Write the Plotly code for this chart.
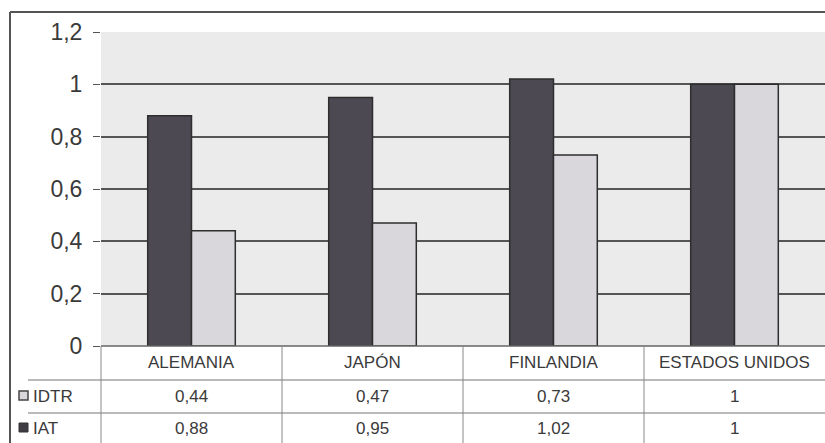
import plotly.graph_objects as go

categories = ["ALEMANIA", "JAPÓN", "FINLANDIA", "ESTADOS UNIDOS"]
iat = [0.88, 0.95, 1.02, 1]
idtr = [0.44, 0.47, 0.73, 1]
iat_labels = ["0.88", "0,95", "1.02", "1"]
idtr_labels = ["0.44", "0.47", "0,73", "1"]
yticks = [0, 0.2, 0.4, 0.6, 0.8, 1, 1.2]

W, H = 825, 443
L, T, B = 101, 32, 97
PH = H - T - B  # 314
PW = W - L

def py(p):  # pixel y -> paper y
    return (H - B - p) / PH

def px(p):  # pixel x -> paper x
    return (p - L) / PW

DARK = "#4d4953"
LIGHT = "#d9d7dc"
EDGE = "#2e2e2e"
TXT = "#3a3a3a"
FONT = "Liberation Sans, Arial, sans-serif"

fig = go.Figure()
fig.add_trace(go.Bar(x=categories, y=iat, name="IAT", marker=dict(color=DARK, line=dict(color=EDGE, width=1.5))))
fig.add_trace(go.Bar(x=categories, y=idtr, name="IDTR", marker=dict(color=LIGHT, line=dict(color=EDGE, width=1.5))))

shapes = []
# outer frame
shapes.append(dict(type="line", xref="paper", yref="paper", x0=px(10), x1=px(825), y0=py(12), y1=py(12), line=dict(color="#555", width=2)))
shapes.append(dict(type="line", xref="paper", yref="paper", x0=px(10), x1=px(10), y0=py(12), y1=py(443), line=dict(color="#555", width=2)))
# table horizontal lines
shapes.append(dict(type="line", xref="paper", yref="paper", x0=0, x1=1, y0=0, y1=0, line=dict(color="#666", width=1.5)))
for yy in [380, 413]:
    shapes.append(dict(type="line", xref="paper", yref="paper", x0=px(28), x1=1, y0=py(yy), y1=py(yy), line=dict(color="#777", width=1.2)))
# table vertical lines
for xx in [0, 0.25, 0.5, 0.75]:
    shapes.append(dict(type="line", xref="paper", yref="paper", x0=xx, x1=xx, y0=0, y1=py(443), line=dict(color="#888", width=1)))
# legend keys
shapes.append(dict(type="rect", xref="paper", yref="paper", x0=px(19), x1=px(28), y0=py(400), y1=py(391), fillcolor=LIGHT, line=dict(color="#444", width=1.5)))
shapes.append(dict(type="rect", xref="paper", yref="paper", x0=px(19), x1=px(28), y0=py(432), y1=py(423), fillcolor="#3f3c44", line=dict(color="#333", width=1)))

ann = []
common = dict(showarrow=False, yanchor="middle", yref="paper", font=dict(size=17, color=TXT))
for i, c in enumerate(categories):
    ann.append(dict(x=c, y=py(362), xref="x", text=c, **common))
    ann.append(dict(x=c, y=py(396), xref="x", text=idtr_labels[i].replace(".", ","), **common))
    ann.append(dict(x=c, y=py(428), xref="x", text=iat_labels[i].replace(".", ","), **common))
ann.append(dict(x=px(31), y=py(396), xref="paper", xanchor="left", text="IDTR", **common))
ann.append(dict(x=px(31), y=py(428), xref="paper", xanchor="left", text="IAT", **common))

fig.update_layout(
    width=W, height=H,
    margin=dict(l=L, r=0, t=T, b=B),
    paper_bgcolor="white",
    plot_bgcolor="#ebebeb",
    separators=", ",
    barmode="group",
    bargap=0.516,
    bargroupgap=0,
    showlegend=False,
    font=dict(family=FONT, color=TXT),
    shapes=shapes,
    annotations=ann,
    xaxis=dict(showticklabels=False, showgrid=False, zeroline=False, ticks="", fixedrange=True),
    yaxis=dict(range=[0, 1.2], tickvals=yticks, showgrid=True, gridcolor="#555", gridwidth=1.5,
               zeroline=False, ticks="outside", ticklen=7, tickcolor="#555", tickwidth=1.2,
               tickfont=dict(size=23, color=TXT), showline=False, ticklabelstandoff=6),
)

fig.write_html("out.html")
